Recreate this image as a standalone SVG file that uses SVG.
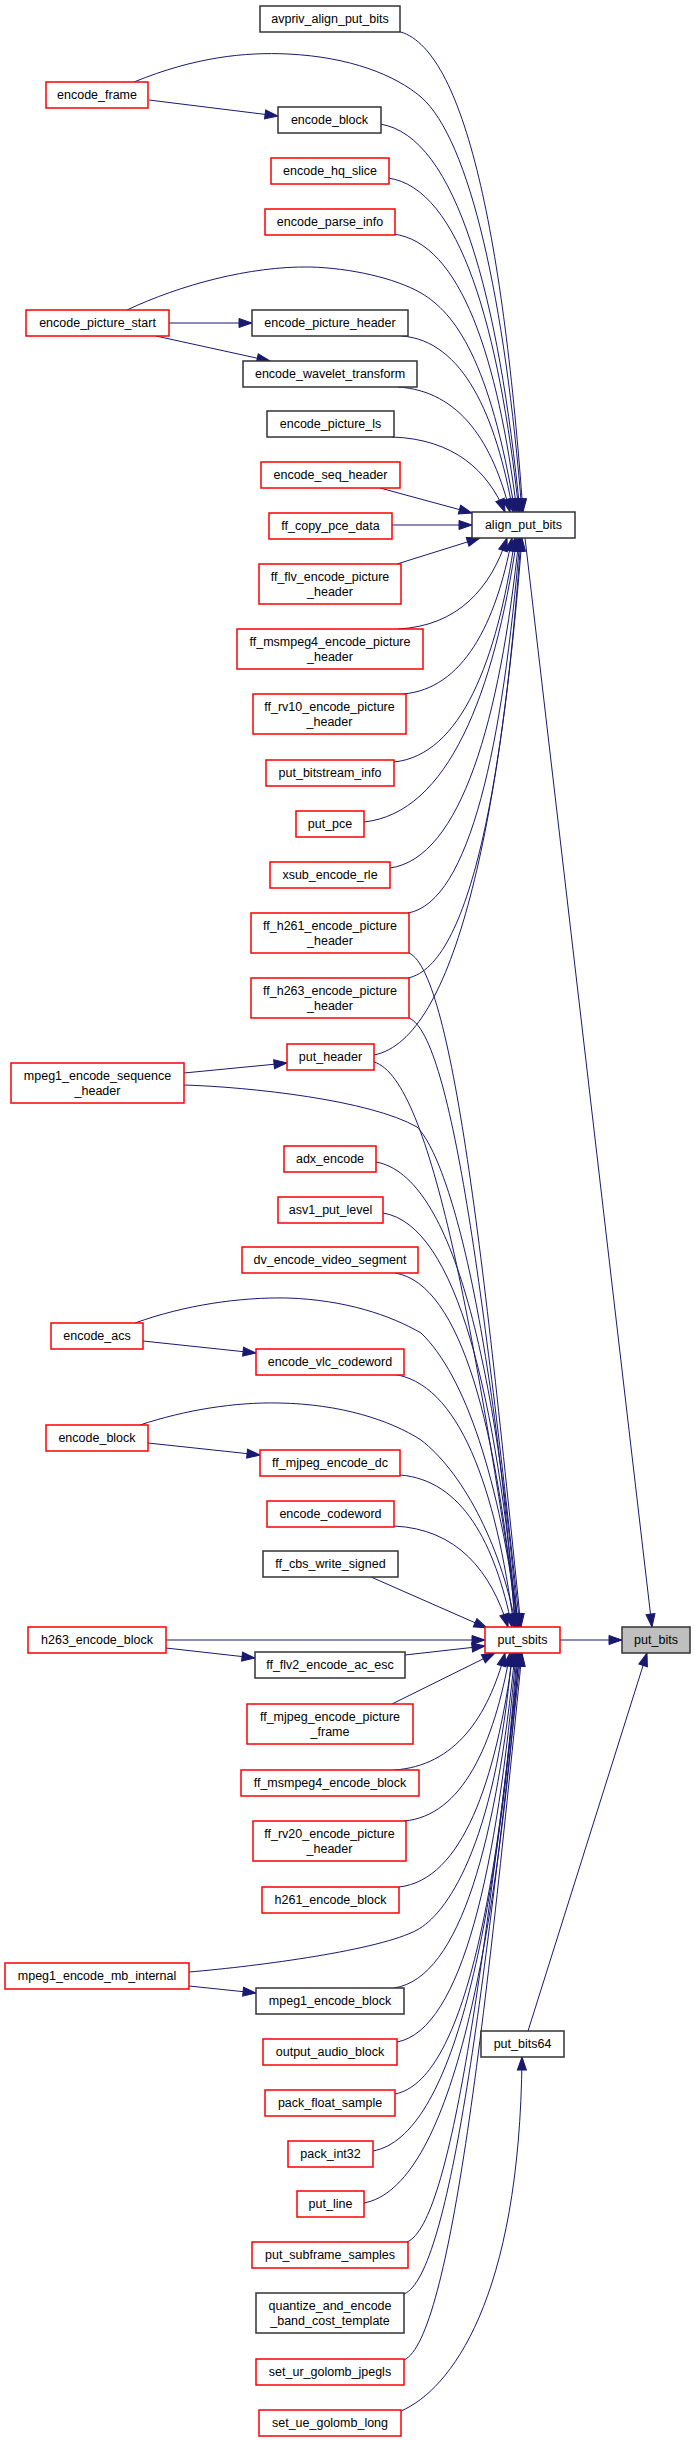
<svg xmlns="http://www.w3.org/2000/svg" width="696" height="2441" viewBox="0 0 696 2441">
<style>
rect{fill:#fff;stroke-width:1.5}
.r rect{stroke:#ff0000}
.k rect{stroke:#333}
.g rect{fill:#bfbfbf;stroke:#333}
text{font-family:"Liberation Sans",Arial,sans-serif;font-size:12.5px;fill:#000;text-anchor:middle}
#edges path{fill:none;stroke:#191970;stroke-width:1;marker-end:url(#a)}
</style>
<defs>
<marker id="a" markerUnits="userSpaceOnUse" markerWidth="14" markerHeight="10" refX="13" refY="5" orient="auto" overflow="visible">
<path d="M0,0.5 L13,5 L0,9.5 z" fill="#191970" stroke="#191970" stroke-width="1"/>
</marker>
</defs>
<rect x="0" y="0" width="696" height="2441" style="fill:#fff;stroke:none"/>
<g id="edges">
<path d="M134,82 C195,57 245,52 288,54 C350,57 395,75 421,97 C470,140 505,300 522,512"/>
<path d="M149,100 L278,116"/>
<path d="M127,310 C180,285 250,266 310,267 C350,268 395,278 421,293 C455,313 490,360 515,512"/>
<path d="M169,323 L252,323"/>
<path d="M156,336 L270,361"/>
<path d="M397,31 C466,45 504,247 523,512"/>
<path d="M380,124 C457,136 499,299 520,512"/>
<path d="M388,178 C460,188 499,328 519,512"/>
<path d="M393,234 C461,242 498,359 517,512"/>
<path d="M402,336 C463,341 496,415 513,512"/>
<path d="M398,387 C460,391 493,443 510,512"/>
<path d="M392,437 C454,439 488,471 505,512"/>
<path d="M380,488 L472,513"/>
<path d="M392,525 L472,525"/>
<path d="M397,564 L480,538"/>
<path d="M398,629 C458,626 491,588 507,538"/>
<path d="M403,694 C463,689 496,624 512,538"/>
<path d="M394,762 C461,755 497,661 515,538"/>
<path d="M364,822 C448,813 494,694 517,538"/>
<path d="M390,868 C461,858 500,720 519,538"/>
<path d="M408,913 C470,902 503,744 520,538"/>
<path d="M408,978 C470,965 504,780 521,538"/>
<path d="M374,1055 C455,1039 500,822 522,538"/>
<path d="M525,538 L652,1627"/>
<path d="M184,1073 L287,1063"/>
<path d="M409,953 C454,973 487,1290 521,1627"/>
<path d="M409,1018 C453,1036 487,1322 520,1627"/>
<path d="M374,1062 C432,1079 476,1344 519,1627"/>
<path d="M184,1085 C250,1087 370,1100 417,1127 C450,1160 495,1330 515,1627"/>
<path d="M376,1162 C454,1176 497,1371 518,1627"/>
<path d="M383,1213 C457,1225 497,1399 517,1627"/>
<path d="M395,1273 C462,1284 498,1432 516,1627"/>
<path d="M135,1323 C185,1305 240,1297 288,1298 C345,1300 390,1315 421,1333 C465,1375 500,1480 518,1627"/>
<path d="M143,1341 L256,1353"/>
<path d="M392,1374 C459,1382 496,1488 514,1627"/>
<path d="M140,1425 C185,1410 235,1402 279,1403 C340,1404 390,1420 421,1440 C460,1470 500,1540 516,1627"/>
<path d="M148,1443 L260,1455"/>
<path d="M400,1475 C462,1480 495,1543 512,1627"/>
<path d="M394,1526 C457,1529 491,1571 508,1627"/>
<path d="M371,1577 L487,1628"/>
<path d="M166,1640 L485,1640"/>
<path d="M166,1648 L255,1658"/>
<path d="M405,1655 L485,1646"/>
<path d="M392,1704 L495,1653"/>
<path d="M394,1770 C455,1766 488,1717 505,1653"/>
<path d="M404,1821 C462,1816 494,1745 510,1653"/>
<path d="M399,1887 C462,1880 496,1782 513,1653"/>
<path d="M189,1972 C260,1966 380,1950 417,1930 C445,1915 495,1850 512,1653"/>
<path d="M189,1986 L256,1993"/>
<path d="M394,1988 C461,1978 497,1837 515,1653"/>
<path d="M397,2042 C462,2030 498,1867 516,1653"/>
<path d="M395,2094 C462,2081 499,1896 517,1653"/>
<path d="M373,2151 C453,2136 496,1927 518,1653"/>
<path d="M364,2203 C449,2187 496,1955 519,1653"/>
<path d="M407,2242 C452,2224 486,1948 520,1653"/>
<path d="M404,2294 C451,2275 486,1974 521,1653"/>
<path d="M404,2360 C451,2339 487,2007 522,1653"/>
<path d="M560,1640 L622,1640"/>
<path d="M528,2031 L647,1653"/>
<path d="M401,2411 C450,2390 520,2300 522,2057"/>
</g>
<g id="n_encode_frame" class="r"><rect x="46" y="82" width="102" height="26"/><text x="97" y="99">encode_frame</text></g>
<g id="n_encode_picture_start" class="r"><rect x="26" y="310" width="143" height="26"/><text x="97.5" y="327">encode_picture_start</text></g>
<g id="n_mpeg1_encode_sequence_header" class="r"><rect x="11" y="1063" width="173" height="40"/><text x="97.5" y="1080">mpeg1_encode_sequence</text><text x="97.5" y="1094.5">_header</text></g>
<g id="n_encode_acs" class="r"><rect x="51" y="1323" width="92" height="26"/><text x="97" y="1340">encode_acs</text></g>
<g id="n_encode_block2" class="r"><rect x="46" y="1425" width="102" height="26"/><text x="97" y="1442">encode_block</text></g>
<g id="n_h263_encode_block" class="r"><rect x="28" y="1627" width="138" height="26"/><text x="97" y="1644">h263_encode_block</text></g>
<g id="n_mpeg1_encode_mb_internal" class="r"><rect x="5" y="1963" width="184" height="26"/><text x="97" y="1980">mpeg1_encode_mb_internal</text></g>
<g id="n_avpriv_align_put_bits" class="k"><rect x="260" y="6" width="140" height="26"/><text x="330" y="23">avpriv_align_put_bits</text></g>
<g id="n_encode_block1" class="k"><rect x="278" y="107" width="103" height="26"/><text x="329.5" y="124">encode_block</text></g>
<g id="n_encode_hq_slice" class="r"><rect x="271" y="158" width="118" height="26"/><text x="330" y="175">encode_hq_slice</text></g>
<g id="n_encode_parse_info" class="r"><rect x="265" y="209" width="130" height="26"/><text x="330" y="226">encode_parse_info</text></g>
<g id="n_encode_picture_header" class="k"><rect x="252" y="310" width="156" height="26"/><text x="330" y="327">encode_picture_header</text></g>
<g id="n_encode_wavelet_transform" class="k"><rect x="243" y="361" width="174" height="26"/><text x="330" y="378">encode_wavelet_transform</text></g>
<g id="n_encode_picture_ls" class="k"><rect x="267" y="411" width="127" height="26"/><text x="330.5" y="428">encode_picture_ls</text></g>
<g id="n_encode_seq_header" class="r"><rect x="261" y="462" width="139" height="26"/><text x="330.5" y="479">encode_seq_header</text></g>
<g id="n_ff_copy_pce_data" class="r"><rect x="269" y="513" width="123" height="26"/><text x="330.5" y="530">ff_copy_pce_data</text></g>
<g id="n_ff_flv_encode_picture_header" class="r"><rect x="259" y="564" width="142" height="40"/><text x="330" y="581">ff_flv_encode_picture</text><text x="330" y="595.5">_header</text></g>
<g id="n_ff_msmpeg4_encode_picture_header" class="r"><rect x="237" y="629" width="186" height="40"/><text x="330" y="646">ff_msmpeg4_encode_picture</text><text x="330" y="660.5">_header</text></g>
<g id="n_ff_rv10_encode_picture_header" class="r"><rect x="253" y="694" width="153" height="40"/><text x="329.5" y="711">ff_rv10_encode_picture</text><text x="329.5" y="725.5">_header</text></g>
<g id="n_put_bitstream_info" class="r"><rect x="266" y="760" width="128" height="26"/><text x="330" y="777">put_bitstream_info</text></g>
<g id="n_put_pce" class="r"><rect x="296" y="811" width="68" height="26"/><text x="330" y="828">put_pce</text></g>
<g id="n_xsub_encode_rle" class="r"><rect x="270" y="862" width="120" height="26"/><text x="330" y="879">xsub_encode_rle</text></g>
<g id="n_ff_h261_encode_picture_header" class="r"><rect x="251" y="913" width="158" height="40"/><text x="330" y="930">ff_h261_encode_picture</text><text x="330" y="944.5">_header</text></g>
<g id="n_ff_h263_encode_picture_header" class="r"><rect x="251" y="978" width="158" height="40"/><text x="330" y="995">ff_h263_encode_picture</text><text x="330" y="1009.5">_header</text></g>
<g id="n_put_header" class="r"><rect x="287" y="1044" width="87" height="26"/><text x="330.5" y="1061">put_header</text></g>
<g id="n_adx_encode" class="r"><rect x="284" y="1146" width="92" height="26"/><text x="330" y="1163">adx_encode</text></g>
<g id="n_asv1_put_level" class="r"><rect x="278" y="1197" width="105" height="26"/><text x="330.5" y="1214">asv1_put_level</text></g>
<g id="n_dv_encode_video_segment" class="r"><rect x="242" y="1247" width="176" height="26"/><text x="330" y="1264">dv_encode_video_segment</text></g>
<g id="n_encode_vlc_codeword" class="r"><rect x="256" y="1349" width="148" height="26"/><text x="330" y="1366">encode_vlc_codeword</text></g>
<g id="n_ff_mjpeg_encode_dc" class="r"><rect x="260" y="1450" width="140" height="26"/><text x="330" y="1467">ff_mjpeg_encode_dc</text></g>
<g id="n_encode_codeword" class="r"><rect x="267" y="1501" width="127" height="26"/><text x="330.5" y="1518">encode_codeword</text></g>
<g id="n_ff_cbs_write_signed" class="k"><rect x="263" y="1551" width="135" height="26"/><text x="330.5" y="1568">ff_cbs_write_signed</text></g>
<g id="n_ff_flv2_encode_ac_esc" class="k"><rect x="255" y="1652" width="150" height="26"/><text x="330" y="1669">ff_flv2_encode_ac_esc</text></g>
<g id="n_ff_mjpeg_encode_picture_frame" class="r"><rect x="247" y="1704" width="166" height="40"/><text x="330" y="1721">ff_mjpeg_encode_picture</text><text x="330" y="1735.5">_frame</text></g>
<g id="n_ff_msmpeg4_encode_block" class="r"><rect x="241" y="1770" width="178" height="26"/><text x="330" y="1787">ff_msmpeg4_encode_block</text></g>
<g id="n_ff_rv20_encode_picture_header" class="r"><rect x="253" y="1821" width="153" height="40"/><text x="329.5" y="1838">ff_rv20_encode_picture</text><text x="329.5" y="1852.5">_header</text></g>
<g id="n_h261_encode_block" class="r"><rect x="262" y="1887" width="137" height="26"/><text x="330.5" y="1904">h261_encode_block</text></g>
<g id="n_mpeg1_encode_block" class="k"><rect x="256" y="1988" width="148" height="26"/><text x="330" y="2005">mpeg1_encode_block</text></g>
<g id="n_output_audio_block" class="r"><rect x="263" y="2039" width="134" height="26"/><text x="330" y="2056">output_audio_block</text></g>
<g id="n_pack_float_sample" class="r"><rect x="265" y="2090" width="130" height="26"/><text x="330" y="2107">pack_float_sample</text></g>
<g id="n_pack_int32" class="r"><rect x="288" y="2141" width="85" height="26"/><text x="330.5" y="2158">pack_int32</text></g>
<g id="n_put_line" class="r"><rect x="297" y="2191" width="67" height="26"/><text x="330.5" y="2208">put_line</text></g>
<g id="n_put_subframe_samples" class="r"><rect x="252" y="2242" width="156" height="26"/><text x="330" y="2259">put_subframe_samples</text></g>
<g id="n_quantize_and_encode_band_cost_template" class="k"><rect x="256" y="2293" width="148" height="40"/><text x="330" y="2310">quantize_and_encode</text><text x="330" y="2324.5">_band_cost_template</text></g>
<g id="n_set_ur_golomb_jpegls" class="r"><rect x="256" y="2359" width="148" height="26"/><text x="330" y="2376">set_ur_golomb_jpegls</text></g>
<g id="n_set_ue_golomb_long" class="r"><rect x="259" y="2410" width="142" height="26"/><text x="330" y="2427">set_ue_golomb_long</text></g>
<g id="n_align_put_bits" class="k"><rect x="472" y="512" width="103" height="26"/><text x="523.5" y="529">align_put_bits</text></g>
<g id="n_put_sbits" class="r"><rect x="485" y="1627" width="75" height="26"/><text x="522.5" y="1644">put_sbits</text></g>
<g id="n_put_bits64" class="k"><rect x="481" y="2031" width="83" height="26"/><text x="522.5" y="2048">put_bits64</text></g>
<g id="n_put_bits" class="g"><rect x="622" y="1627" width="68" height="26"/><text x="656" y="1644">put_bits</text></g>
</svg>
